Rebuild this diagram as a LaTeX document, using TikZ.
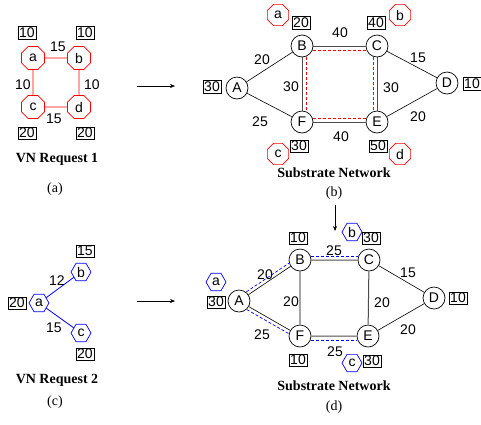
\documentclass[tikz,border=0pt]{standalone}
\usepackage{fontspec}
\setmainfont{Liberation Serif}
\newfontfamily\labfont{Liberation Sans}
\usetikzlibrary{shapes.geometric,arrows.meta,calc}
\begin{document}
\begin{tikzpicture}[x=1pt,y=-1pt,
  lab/.style={font=\labfont\fontsize{14}{14}\selectfont, inner sep=0pt},
  sub/.style={circle, draw, line width=0.7pt, minimum size=22pt, inner sep=0pt, fill=white, font=\labfont\fontsize{14}{14}\selectfont},
  capbox/.style={draw, line width=0.7pt, fill=white, inner sep=1.2pt, font=\labfont\fontsize{14}{14}\selectfont},
  oct/.style={regular polygon, regular polygon sides=8, draw=red, line width=0.7pt, minimum size=25pt, inner sep=0pt, fill=white, font=\labfont\fontsize{14}{14}\selectfont},
  octs/.style={oct, minimum size=23pt},
  hex/.style={regular polygon, regular polygon sides=6, draw=blue, line width=0.7pt, minimum size=20pt, inner sep=0pt, fill=white, font=\labfont\fontsize{14}{14}\selectfont},
  title/.style={font=\bfseries\fontsize{14}{14}\selectfont, inner sep=0pt},
  sublab/.style={font=\fontsize{14}{14}\selectfont, inner sep=0pt},
  plain/.style={draw, line width=0.6pt},
  heavy/.style={draw=black!70, line width=1pt},
  redge/.style={draw=red, line width=0.8pt},
  bedge/.style={draw=blue, line width=0.8pt},
  rdash/.style={draw=red, dash pattern=on 3pt off 2pt, line width=0.7pt},
  bdash/.style={draw=blue, dash pattern=on 3pt off 2pt, line width=0.7pt},
  arr/.style={draw, -{Stealth[length=5pt,width=4pt]}, line width=0.5pt}
]
\useasboundingbox (0,0) rectangle (481,424);

% ---------- (a) VN Request 1
\node[oct] (va) at (33,58) {a};
\node[oct] (vb) at (79,58) {b};
\node[oct] (vc) at (33,107) {c};
\node[oct] (vd) at (79,107) {d};
\path[redge] (va) -- (vb) (vb) -- (vd) (vd) -- (vc) (vc) -- (va);
\node[capbox] (ka) at (27,33) {10};
\node[capbox] (kb) at (85,33) {10};
\node[capbox] (kc) at (27,133) {20};
\node[capbox] (kd) at (85,133) {20};
\node[lab] (lab1) at (58,47) {15};
\node[lab] (lac1) at (23,85) {10};
\node[lab] (lbd1) at (92,85) {10};
\node[lab] (lcd1) at (54,119) {15};
\node[title] (t1) at (57,159) {VN Request 1};
\node[sublab] (s1) at (55,189) {(a)};

\coordinate (ar1s) at (137,86);
\coordinate (ar1e) at (175,86);
\path[arr] (ar1s) -- (ar1e);

% ---------- (b) Substrate
\node[sub] (A) at (237,88) {A};
\node[sub] (B) at (302,46) {B};
\node[sub] (C) at (377,46) {C};
\node[sub] (D) at (447,83) {D};
\node[sub] (F) at (302,122) {F};
\node[sub] (E) at (377,122) {E};
\path[plain] (A) -- (B) (A) -- (F) (C) -- (D) (E) -- (D);
\path[heavy] (B) -- (C) (B) -- (F) (C) -- (E) (F) -- (E);
\path[rdash] ([yshift=-4pt]B.east) -- ([yshift=-4pt]C.west);
\path[rdash] ([xshift=4pt]B.south) -- ([xshift=4pt]F.north);
\path[rdash] ([xshift=-4pt]C.south) -- ([xshift=-4pt]E.north);
\path[rdash] ([yshift=4pt]F.east) -- ([yshift=4pt]E.west);
\node[octs] (ma) at (278,15) {a};
\node[octs] (mb) at (400,15) {b};
\node[octs] (mc) at (278,154) {c};
\node[octs] (md) at (400,154) {d};
\node[capbox] (kB) at (301,23) {20};
\node[capbox] (kC) at (376,23) {40};
\node[capbox] (kA) at (212,87) {30};
\node[capbox] (kD) at (472,84) {10};
\node[capbox] (kF) at (299,146) {30};
\node[capbox] (kE) at (378,146) {50};
\node[lab] (lBC) at (340,33) {40};
\node[lab] (lAB) at (262,60) {20};
\node[lab] (lCD) at (418,58) {15};
\node[lab] (lBF) at (291,87) {30};
\node[lab] (lCE) at (391,88) {30};
\node[lab] (lAF) at (260,122) {25};
\node[lab] (lFE) at (341,137) {40};
\node[lab] (lED) at (418,117) {20};
\node[title] (t2) at (334,173) {Substrate Network};
\node[sublab] (s2) at (334,193) {(b)};

\coordinate (ar3s) at (335,205);
\coordinate (ar3e) at (335,231);
\path[arr] (ar3s) -- (ar3e);

% ---------- (c) VN Request 2
\node[hex] (wa) at (39,303) {a};
\node[hex] (wb) at (81,272) {b};
\node[hex] (wc) at (81,333) {c};
\path[bedge] (wa) -- (wb) (wa) -- (wc);
\node[capbox] (jb) at (85,251) {15};
\node[capbox] (ja) at (17,303) {20};
\node[capbox] (jc) at (85,354) {20};
\node[lab] (lab2) at (57,281) {12};
\node[lab] (lac2) at (54,328) {15};
\node[title] (t3) at (57,380) {VN Request 2};
\node[sublab] (s3) at (55,402) {(c)};

\coordinate (ar2s) at (137,301);
\coordinate (ar2e) at (175,301);
\path[arr] (ar2s) -- (ar2e);

% ---------- (d) Substrate
\node[sub] (A2) at (239,301) {A};
\node[sub] (B2) at (300,260) {B};
\node[sub] (C2) at (369,260) {C};
\node[sub] (D2) at (434,298) {D};
\node[sub] (F2) at (300,336) {F};
\node[sub] (E2) at (368,336) {E};
\path[plain] (A2) -- (B2) (A2) -- (F2) (C2) -- (D2) (E2) -- (D2) (B2) -- (F2);
\path[heavy] (B2) -- (C2) (C2) -- (E2) (F2) -- (E2);
\path[bdash] ([yshift=4pt]B2.east) -- ([yshift=4pt]C2.west);
\path[bdash] ([yshift=-4pt]F2.east) -- ([yshift=-4pt]E2.west);
\path[bdash, transform canvas={shift={(-1.8pt,3pt)}}] ($(A2)!11pt!(B2)$) -- ($(B2)!11pt!(A2)$);
\path[bdash, transform canvas={shift={(-1.7pt,-3.1pt)}}] ($(A2)!11pt!(F2)$) -- ($(F2)!11pt!(A2)$);
\node[hex] (na) at (216,282) {a};
\node[hex] (nb) at (352,232) {b};
\node[hex] (nc) at (352,363) {c};
\node[capbox] (iB) at (298,238) {10};
\node[capbox] (iC) at (371,238) {30};
\node[capbox] (iA) at (216,302) {30};
\node[capbox] (iD) at (458,298) {10};
\node[capbox] (iF) at (298,360) {10};
\node[capbox] (iE) at (372,361) {30};
\node[lab] (mBC) at (334,251) {25};
\node[lab] (mAB) at (265,275) {20};
\node[lab] (mCD) at (408,273) {15};
\node[lab] (mBF) at (291,302) {20};
\node[lab] (mCE) at (382,303) {20};
\node[lab] (mAF) at (262,335) {25};
\node[lab] (mFE) at (335,352) {25};
\node[lab] (mED) at (408,330) {20};
\node[title] (t4) at (334,386) {Substrate Network};
\node[sublab] (s4) at (334,407) {(d)};
\end{tikzpicture}
\end{document}
